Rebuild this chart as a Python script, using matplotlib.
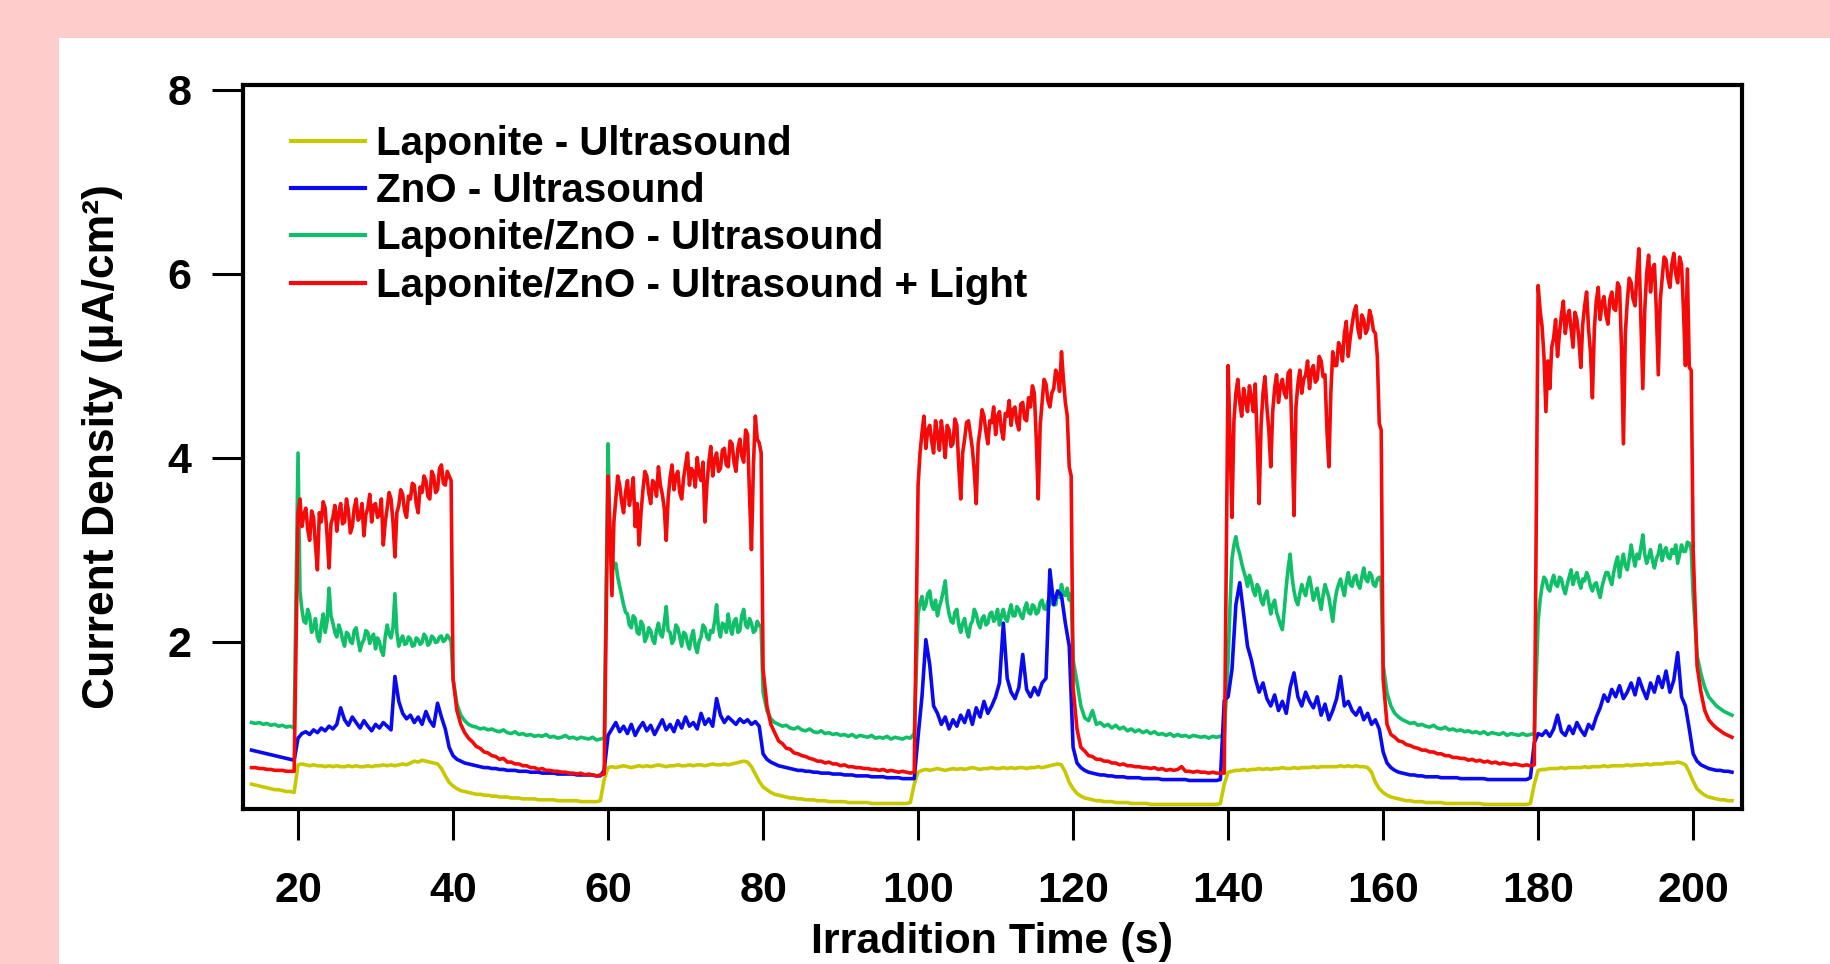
import matplotlib
matplotlib.use('Agg')
import matplotlib.pyplot as plt
import numpy as np
from matplotlib.patches import Rectangle
from matplotlib.transforms import blended_transform_factory

plt.rcParams['font.family'] = ['Liberation Sans', 'DejaVu Sans']
plt.rcParams['font.weight'] = 'bold'

# segment start times (s): pre-run, then on / off halves of each 40 s cycle
seg_starts = [14, 20, 40, 60, 80, 100, 120, 140, 160, 180, 200]
# sampling step of each segment (s); noisy "on" parts of red/green are sampled finer
coarse = [0.5] * 11
fine = [0.5, 0.25, 0.5, 0.25, 0.5, 0.25, 0.5, 0.25, 0.5, 0.25, 0.5]

yellow = [
    [0.45, 0.44, 0.43, 0.42, 0.41, 0.40, 0.39, 0.39, 0.38, 0.37, 0.37, 0.36],
    [0.66, 0.67, 0.66, 0.65, 0.66, 0.65, 0.65, 0.64, 0.65, 0.64, 0.65, 0.64, 0.64, 0.65, 0.64, 0.65, 0.64, 0.64, 0.65, 0.64,
     0.65, 0.65, 0.66, 0.65, 0.66, 0.65, 0.66, 0.67, 0.66, 0.68, 0.70, 0.69, 0.71, 0.70, 0.69, 0.68, 0.67, 0.62, 0.54, 0.47],
    [0.43, 0.40, 0.38, 0.37, 0.36, 0.35, 0.34, 0.34, 0.33, 0.33, 0.32, 0.32, 0.31, 0.31, 0.31, 0.30, 0.30, 0.30, 0.29, 0.29,
     0.29, 0.29, 0.28, 0.28, 0.28, 0.28, 0.28, 0.27, 0.27, 0.27, 0.27, 0.27, 0.27, 0.26, 0.26, 0.26, 0.26, 0.26, 0.27, 0.50],
    [0.63, 0.64, 0.63, 0.64, 0.65, 0.64, 0.63, 0.64, 0.65, 0.64, 0.65, 0.64, 0.65, 0.66, 0.65, 0.64, 0.65, 0.65, 0.66, 0.65,
     0.65, 0.66, 0.65, 0.66, 0.66, 0.65, 0.66, 0.67, 0.66, 0.66, 0.67, 0.66, 0.67, 0.68, 0.69, 0.70, 0.69, 0.64, 0.56, 0.48],
    [0.42, 0.39, 0.36, 0.34, 0.33, 0.32, 0.31, 0.30, 0.30, 0.29, 0.29, 0.28, 0.28, 0.28, 0.27, 0.27, 0.27, 0.26, 0.26, 0.26,
     0.26, 0.26, 0.25, 0.25, 0.25, 0.25, 0.25, 0.25, 0.24, 0.24, 0.24, 0.24, 0.24, 0.24, 0.24, 0.24, 0.24, 0.24, 0.25, 0.45],
    [0.58, 0.60, 0.61, 0.60, 0.61, 0.62, 0.61, 0.60, 0.61, 0.62, 0.61, 0.62, 0.61, 0.62, 0.63, 0.62, 0.61, 0.62, 0.62, 0.63,
     0.62, 0.62, 0.63, 0.62, 0.63, 0.62, 0.63, 0.63, 0.62, 0.63, 0.63, 0.64, 0.63, 0.64, 0.65, 0.66, 0.67, 0.66, 0.58, 0.47],
    [0.40, 0.35, 0.32, 0.30, 0.29, 0.28, 0.27, 0.27, 0.26, 0.26, 0.26, 0.25, 0.25, 0.25, 0.25, 0.24, 0.24, 0.24, 0.24, 0.24,
     0.23, 0.23, 0.23, 0.23, 0.23, 0.23, 0.23, 0.23, 0.23, 0.23, 0.23, 0.23, 0.23, 0.23, 0.23, 0.23, 0.23, 0.23, 0.24, 0.45],
    [0.58, 0.59, 0.60, 0.60, 0.61, 0.60, 0.61, 0.61, 0.62, 0.61, 0.62, 0.61, 0.62, 0.62, 0.63, 0.62, 0.62, 0.63, 0.62, 0.63,
     0.63, 0.63, 0.64, 0.63, 0.64, 0.64, 0.64, 0.64, 0.64, 0.65, 0.64, 0.65, 0.64, 0.65, 0.64, 0.64, 0.63, 0.58, 0.47, 0.40],
    [0.36, 0.33, 0.31, 0.30, 0.29, 0.28, 0.27, 0.27, 0.26, 0.26, 0.26, 0.25, 0.25, 0.25, 0.25, 0.25, 0.24, 0.24, 0.24, 0.24,
     0.24, 0.24, 0.24, 0.24, 0.24, 0.24, 0.23, 0.23, 0.23, 0.23, 0.23, 0.23, 0.23, 0.23, 0.23, 0.23, 0.23, 0.23, 0.24, 0.45],
    [0.60, 0.61, 0.61, 0.62, 0.62, 0.62, 0.63, 0.62, 0.63, 0.63, 0.63, 0.63, 0.64, 0.63, 0.64, 0.64, 0.64, 0.65, 0.64, 0.65,
     0.65, 0.65, 0.65, 0.66, 0.65, 0.66, 0.66, 0.66, 0.67, 0.66, 0.67, 0.67, 0.67, 0.68, 0.68, 0.68, 0.69, 0.68, 0.66, 0.58],
    [0.48, 0.40, 0.36, 0.33, 0.31, 0.30, 0.29, 0.28, 0.28, 0.27, 0.27],
]

blue = [
    [0.82, 0.81, 0.80, 0.79, 0.78, 0.77, 0.76, 0.75, 0.74, 0.73, 0.72, 0.71],
    [0.95, 1.00, 1.02, 0.99, 1.04, 1.01, 1.06, 1.03, 1.08, 1.05, 1.10, 1.28, 1.15, 1.09, 1.18, 1.12, 1.06, 1.14, 1.08, 1.03,
     1.10, 1.06, 1.12, 1.08, 1.04, 1.62, 1.35, 1.22, 1.16, 1.20, 1.12, 1.18, 1.10, 1.24, 1.14, 1.08, 1.33, 1.18, 1.05, 0.85],
    [0.76, 0.72, 0.70, 0.68, 0.67, 0.66, 0.65, 0.64, 0.63, 0.63, 0.62, 0.62, 0.61, 0.61, 0.60, 0.60, 0.60, 0.59, 0.59, 0.59,
     0.58, 0.58, 0.58, 0.57, 0.57, 0.57, 0.57, 0.56, 0.56, 0.56, 0.56, 0.56, 0.55, 0.55, 0.55, 0.55, 0.55, 0.54, 0.54, 0.60],
    [0.98, 1.05, 1.12, 1.02, 1.08, 1.00, 1.10, 0.98, 1.06, 1.12, 1.03, 1.09, 0.99, 1.07, 1.15, 1.04, 1.10, 1.02, 1.14, 1.06,
     1.18, 1.08, 1.12, 1.05, 1.22, 1.10, 1.16, 1.08, 1.38, 1.20, 1.12, 1.18, 1.14, 1.10, 1.16, 1.12, 1.15, 1.10, 1.13, 1.08],
    [0.78, 0.72, 0.69, 0.67, 0.65, 0.64, 0.63, 0.62, 0.61, 0.60, 0.60, 0.59, 0.59, 0.58, 0.58, 0.57, 0.57, 0.57, 0.56, 0.56,
     0.56, 0.55, 0.55, 0.55, 0.54, 0.54, 0.54, 0.54, 0.53, 0.53, 0.53, 0.53, 0.52, 0.52, 0.52, 0.52, 0.51, 0.51, 0.51, 0.51],
    [0.97, 1.40, 2.02, 1.75, 1.30, 1.22, 1.10, 1.18, 1.05, 1.15, 1.08, 1.20, 1.12, 1.25, 1.10, 1.28, 1.18, 1.35, 1.22, 1.30,
     1.40, 1.55, 2.20, 1.60, 1.45, 1.38, 1.50, 1.86, 1.48, 1.40, 1.50, 1.42, 1.55, 1.60, 2.78, 2.40, 2.55, 2.50, 2.20, 1.95],
    [0.85, 0.68, 0.63, 0.60, 0.58, 0.57, 0.56, 0.55, 0.55, 0.54, 0.54, 0.53, 0.53, 0.53, 0.52, 0.52, 0.52, 0.52, 0.51, 0.51,
     0.51, 0.51, 0.51, 0.50, 0.50, 0.50, 0.50, 0.50, 0.50, 0.50, 0.49, 0.49, 0.49, 0.49, 0.49, 0.49, 0.49, 0.49, 0.50, 1.36],
    [1.40, 1.70, 2.40, 2.64, 2.30, 1.95, 1.80, 1.60, 1.45, 1.55, 1.38, 1.30, 1.42, 1.25, 1.35, 1.22, 1.50, 1.66, 1.40, 1.30,
     1.45, 1.35, 1.28, 1.40, 1.20, 1.32, 1.15, 1.25, 1.38, 1.62, 1.30, 1.35, 1.25, 1.20, 1.28, 1.15, 1.22, 1.10, 1.15, 1.05],
    [0.80, 0.68, 0.63, 0.60, 0.58, 0.57, 0.56, 0.55, 0.55, 0.54, 0.54, 0.53, 0.53, 0.53, 0.53, 0.52, 0.52, 0.52, 0.52, 0.52,
     0.51, 0.51, 0.51, 0.51, 0.51, 0.51, 0.51, 0.50, 0.50, 0.50, 0.50, 0.50, 0.50, 0.50, 0.50, 0.50, 0.50, 0.50, 0.52, 0.90],
    [1.00, 0.98, 1.03, 0.97, 1.05, 1.20, 1.02, 0.98, 1.08, 1.00, 1.12, 1.04, 0.98, 1.10, 1.05, 1.18, 1.28, 1.42, 1.35, 1.48,
     1.40, 1.52, 1.38, 1.45, 1.55, 1.42, 1.60, 1.48, 1.38, 1.55, 1.45, 1.62, 1.50, 1.68, 1.45, 1.58, 1.88, 1.40, 1.30, 1.05],
    [0.78, 0.70, 0.66, 0.64, 0.62, 0.61, 0.60, 0.60, 0.59, 0.59, 0.58],
]

green = [
    [1.12, 1.11, 1.12, 1.10, 1.11, 1.09, 1.10, 1.08, 1.09, 1.07, 1.08, 1.06],
    [4.05, 2.55, 2.35, 2.22, 2.20, 2.35, 2.28, 2.10, 2.15, 2.25, 2.05, 2.00, 2.18, 2.30, 2.10, 2.22, 2.58, 2.28, 2.20, 2.10,
     2.05, 2.18, 2.12, 2.02, 1.95, 2.10, 2.08, 2.00, 1.98, 2.12, 2.15, 2.02, 1.90, 1.98, 2.02, 2.12, 2.10, 1.98, 2.05, 2.08,
     1.92, 2.04, 2.00, 1.90, 1.85, 2.05, 2.18, 2.08, 2.04, 2.15, 2.52, 2.10, 1.95, 2.02, 2.06, 1.97, 1.98, 2.05, 2.03, 1.95,
     1.96, 2.04, 2.02, 1.97, 1.99, 2.08, 2.05, 1.96, 1.98, 2.06, 2.04, 1.99, 2.00, 2.05, 2.06, 2.00, 2.02, 2.07, 2.04, 2.00],
    [1.59, 1.32, 1.20, 1.14, 1.10, 1.08, 1.07, 1.05, 1.06, 1.04, 1.05, 1.03, 1.02, 1.04, 1.01, 1.00, 1.02, 0.99, 1.00, 0.98,
     0.99, 0.97, 0.98, 0.97, 0.99, 0.96, 0.97, 0.95, 0.96, 0.98, 0.95, 0.96, 0.94, 0.96, 0.95, 0.94, 0.96, 0.93, 0.94, 0.95],
    [4.15, 3.10, 2.95, 2.80, 2.85, 2.70, 2.60, 2.50, 2.40, 2.32, 2.30, 2.18, 2.15, 2.28, 2.25, 2.10, 2.08, 2.22, 2.18, 2.00,
     2.05, 2.15, 2.12, 2.02, 1.98, 2.12, 2.20, 2.08, 2.05, 2.20, 2.38, 2.12, 2.10, 1.98, 2.02, 2.18, 2.15, 2.05, 1.95, 2.10,
     2.08, 1.98, 1.92, 2.05, 2.12, 1.95, 1.88, 2.00, 2.05, 2.18, 2.15, 2.05, 2.02, 2.12, 2.10, 2.22, 2.40, 2.15, 2.05, 2.20,
     2.18, 2.10, 2.30, 2.15, 2.08, 2.22, 2.25, 2.10, 2.12, 2.28, 2.35, 2.18, 2.15, 2.25, 2.20, 2.10, 2.12, 2.22, 2.18, 2.15],
    [1.45, 1.25, 1.16, 1.12, 1.10, 1.08, 1.09, 1.06, 1.05, 1.07, 1.04, 1.03, 1.05, 1.02, 1.01, 1.03, 1.00, 1.01, 0.99, 1.00,
     0.98, 0.99, 0.97, 0.99, 0.96, 0.98, 0.97, 0.96, 0.98, 0.95, 0.96, 0.95, 0.97, 0.94, 0.96, 0.95, 0.94, 0.96, 0.95, 1.00],
    [2.30, 2.42, 2.49, 2.35, 2.40, 2.52, 2.55, 2.40, 2.35, 2.45, 2.28, 2.38, 2.45, 2.55, 2.66, 2.42, 2.30, 2.22, 2.20, 2.32,
     2.35, 2.18, 2.10, 2.20, 2.25, 2.12, 2.05, 2.18, 2.22, 2.35, 2.30, 2.20, 2.15, 2.25, 2.28, 2.18, 2.20, 2.30, 2.32, 2.22,
     2.25, 2.35, 2.18, 2.28, 2.35, 2.25, 2.22, 2.32, 2.40, 2.28, 2.28, 2.38, 2.35, 2.28, 2.25, 2.36, 2.42, 2.32, 2.30, 2.40,
     2.38, 2.30, 2.32, 2.42, 2.45, 2.36, 2.35, 2.44, 2.40, 2.50, 2.48, 2.40, 2.55, 2.48, 2.62, 2.52, 2.50, 2.58, 2.45, 2.52],
    [1.80, 1.56, 1.30, 1.17, 1.14, 1.25, 1.10, 1.12, 1.08, 1.10, 1.06, 1.09, 1.05, 1.07, 1.03, 1.05, 1.02, 1.04, 1.01, 1.03,
     1.00, 1.02, 0.99, 1.00, 0.98, 1.00, 0.97, 0.99, 0.97, 0.98, 0.96, 0.98, 0.97, 0.96, 0.97, 0.95, 0.97, 0.96, 0.97, 0.98],
    [1.80, 2.40, 2.90, 3.05, 3.14, 3.02, 2.95, 2.85, 2.77, 2.70, 2.60, 2.72, 2.65, 2.55, 2.50, 2.62, 2.58, 2.45, 2.40, 2.50,
     2.55, 2.42, 2.30, 2.40, 2.45, 2.32, 2.25, 2.18, 2.13, 2.35, 2.60, 2.80, 2.95, 2.70, 2.55, 2.45, 2.40, 2.52, 2.62, 2.55,
     2.50, 2.62, 2.70, 2.58, 2.45, 2.52, 2.58, 2.45, 2.35, 2.50, 2.62, 2.55, 2.48, 2.35, 2.22, 2.42, 2.55, 2.62, 2.68, 2.58,
     2.50, 2.65, 2.75, 2.62, 2.60, 2.70, 2.72, 2.62, 2.58, 2.70, 2.80, 2.68, 2.65, 2.75, 2.72, 2.62, 2.60, 2.68, 2.70, 2.65],
    [1.75, 1.44, 1.30, 1.22, 1.18, 1.15, 1.13, 1.11, 1.12, 1.09, 1.10, 1.08, 1.07, 1.09, 1.06, 1.05, 1.07, 1.04, 1.05, 1.03,
     1.04, 1.02, 1.03, 1.01, 1.02, 1.00, 1.02, 0.99, 1.01, 1.00, 0.99, 1.01, 0.98, 1.00, 0.99, 0.98, 1.00, 0.98, 0.99, 1.00],
    [2.23, 2.45, 2.60, 2.70, 2.67, 2.58, 2.55, 2.65, 2.72, 2.62, 2.60, 2.70, 2.68, 2.58, 2.52, 2.62, 2.70, 2.78, 2.62, 2.70,
     2.75, 2.65, 2.58, 2.68, 2.66, 2.75, 2.70, 2.60, 2.55, 2.62, 2.64, 2.55, 2.48, 2.60, 2.68, 2.75, 2.75, 2.68, 2.62, 2.75,
     2.85, 2.92, 2.70, 2.85, 2.95, 2.82, 2.78, 2.90, 3.05, 2.92, 2.82, 2.95, 2.90, 3.02, 3.16, 2.95, 2.85, 2.92, 3.00, 2.88,
     2.80, 2.90, 2.95, 3.05, 2.88, 2.98, 3.02, 2.92, 2.90, 3.00, 2.96, 3.05, 2.85, 2.95, 3.05, 2.98, 2.98, 3.08, 3.07, 3.00],
    [2.50, 1.85, 1.65, 1.50, 1.40, 1.35, 1.30, 1.27, 1.24, 1.22, 1.20],
]

red = [
    [0.63, 0.63, 0.62, 0.62, 0.61, 0.61, 0.60, 0.60, 0.60, 0.59, 0.59, 0.59],
    [3.40, 3.55, 3.25, 3.38, 3.45, 3.22, 3.10, 3.42, 3.35, 3.05, 2.78, 3.40, 3.30, 3.52, 3.45, 3.15, 2.80, 3.28, 3.35, 3.48,
     3.20, 3.40, 3.50, 3.28, 3.30, 3.55, 3.42, 3.18, 3.25, 3.45, 3.55, 3.32, 3.35, 3.50, 3.15, 3.38, 3.45, 3.60, 3.30, 3.48,
     3.50, 3.35, 3.38, 3.55, 3.05, 3.30, 3.45, 3.62, 3.55, 3.30, 2.92, 3.40, 3.48, 3.65, 3.60, 3.42, 3.35, 3.58, 3.55, 3.72,
     3.70, 3.50, 3.40, 3.68, 3.62, 3.80, 3.75, 3.58, 3.55, 3.85, 3.80, 3.62, 3.65, 3.88, 3.92, 3.72, 3.70, 3.85, 3.80, 3.75],
    [1.60, 1.25, 1.10, 1.01, 0.95, 0.91, 0.86, 0.84, 0.80, 0.79, 0.76, 0.75, 0.72, 0.73, 0.69, 0.69, 0.67, 0.67, 0.65, 0.65,
     0.63, 0.63, 0.61, 0.62, 0.60, 0.60, 0.59, 0.59, 0.58, 0.58, 0.57, 0.57, 0.56, 0.57, 0.55, 0.56, 0.55, 0.54, 0.55, 0.56],
    [3.80, 3.20, 2.50, 3.30, 3.55, 3.80, 3.70, 3.52, 3.40, 3.62, 3.75, 3.48, 3.60, 3.78, 3.25, 3.50, 3.05, 3.40, 3.65, 3.85,
     3.80, 3.62, 3.50, 3.75, 3.72, 3.58, 3.90, 3.70, 3.60, 3.45, 3.10, 3.55, 3.78, 3.92, 3.65, 3.80, 3.85, 3.62, 3.55, 3.78,
     3.92, 4.05, 3.70, 3.88, 3.85, 3.68, 4.00, 3.82, 3.75, 3.95, 3.30, 3.70, 3.95, 4.12, 3.80, 3.98, 4.05, 3.85, 3.88, 4.08,
     4.10, 3.92, 3.90, 4.18, 4.15, 3.95, 3.85, 4.10, 4.20, 4.02, 3.95, 4.30, 4.25, 3.60, 3.00, 3.90, 4.45, 4.20, 4.16, 4.05],
    [1.70, 1.30, 1.10, 1.01, 0.92, 0.89, 0.84, 0.83, 0.79, 0.78, 0.76, 0.75, 0.73, 0.72, 0.70, 0.70, 0.68, 0.69, 0.67, 0.67,
     0.65, 0.66, 0.64, 0.64, 0.63, 0.63, 0.62, 0.62, 0.61, 0.61, 0.60, 0.61, 0.59, 0.60, 0.59, 0.58, 0.59, 0.58, 0.57, 0.58],
    [3.70, 4.05, 4.27, 4.45, 4.10, 4.30, 4.35, 4.18, 4.05, 4.40, 4.25, 4.08, 4.40, 4.22, 4.00, 4.35, 4.30, 4.12, 4.15, 4.42,
     4.35, 3.90, 3.55, 4.05, 4.20, 4.38, 4.40, 4.25, 4.10, 3.85, 3.50, 4.15, 4.30, 4.52, 4.45, 4.28, 4.15, 4.40, 4.38, 4.55,
     4.25, 4.45, 4.50, 4.30, 4.20, 4.48, 4.45, 4.62, 4.35, 4.52, 4.55, 4.38, 4.30, 4.58, 4.60, 4.42, 4.40, 4.65, 4.55, 4.78,
     4.70, 4.20, 3.55, 4.35, 4.60, 4.85, 4.80, 4.62, 4.55, 4.70, 4.75, 4.95, 4.90, 4.72, 5.15, 4.85, 4.60, 4.45, 3.90, 3.80],
    [1.50, 1.05, 0.85, 0.81, 0.76, 0.75, 0.72, 0.72, 0.70, 0.70, 0.68, 0.68, 0.66, 0.67, 0.65, 0.65, 0.64, 0.64, 0.63, 0.63,
     0.62, 0.63, 0.61, 0.62, 0.60, 0.61, 0.60, 0.61, 0.64, 0.59, 0.59, 0.58, 0.59, 0.58, 0.58, 0.57, 0.58, 0.57, 0.57, 0.57],
    [5.00, 4.20, 3.35, 4.40, 4.70, 4.85, 4.60, 4.45, 4.75, 4.62, 4.50, 4.78, 4.65, 4.50, 4.80, 4.20, 3.50, 4.35, 4.70, 4.88,
     4.55, 4.30, 3.90, 4.50, 4.75, 4.90, 4.60, 4.78, 4.85, 4.70, 4.65, 4.92, 4.95, 4.20, 3.37, 4.55, 4.80, 4.95, 4.70, 4.85,
     4.90, 5.05, 4.75, 4.95, 5.00, 4.82, 4.85, 5.10, 5.05, 4.88, 4.90, 4.30, 3.90, 4.70, 5.15, 5.00, 5.00, 5.25, 5.20, 5.05,
     5.35, 5.48, 5.10, 5.30, 5.45, 5.58, 5.65, 5.40, 5.30, 5.55, 5.50, 5.35, 5.40, 5.60, 5.52, 5.38, 5.35, 5.10, 4.37, 4.30],
    [1.60, 1.10, 0.99, 0.96, 0.92, 0.91, 0.88, 0.87, 0.85, 0.84, 0.82, 0.82, 0.80, 0.80, 0.78, 0.78, 0.76, 0.76, 0.74, 0.74,
     0.73, 0.73, 0.71, 0.72, 0.70, 0.71, 0.69, 0.70, 0.68, 0.69, 0.67, 0.68, 0.67, 0.66, 0.67, 0.66, 0.65, 0.66, 0.65, 0.66],
    [5.87, 5.60, 5.43, 5.10, 4.50, 5.05, 4.75, 5.20, 5.30, 5.50, 5.10, 5.35, 5.55, 5.70, 5.35, 5.52, 5.60, 5.40, 5.20, 5.58,
     5.50, 5.30, 4.98, 5.45, 5.65, 5.80, 5.40, 5.15, 4.65, 5.40, 5.70, 5.85, 5.50, 5.68, 5.75, 5.55, 5.45, 5.72, 5.80, 5.62,
     5.60, 5.90, 5.85, 5.20, 4.15, 5.35, 5.70, 5.95, 5.90, 5.72, 5.65, 6.00, 6.27, 5.50, 4.75, 5.60, 6.00, 6.20, 5.80, 6.05,
     6.10, 5.60, 4.90, 5.70, 5.95, 6.18, 6.15, 5.95, 5.85, 6.10, 6.22, 6.00, 5.90, 6.18, 6.10, 5.60, 5.00, 6.05, 4.98, 4.95],
    [3.00, 1.74, 1.45, 1.25, 1.15, 1.10, 1.06, 1.03, 1.00, 0.98, 0.96],
]

labels = ['Laponite - Ultrasound', 'ZnO - Ultrasound', 'Laponite/ZnO - Ultrasound',
          'Laponite/ZnO - Ultrasound + Light']
colors = ['#C8C800', '#0A0AF0', '#10C068', '#F50A0A']
xticks = [20, 40, 60, 80, 100, 120, 140, 160, 180, 200]
yticks = [2, 4, 6, 8]


def build(segs, steps):
    tt = []
    vv = []
    for t0, dt, vals in zip(seg_starts, steps, segs):
        tt.append(t0 + dt * np.arange(len(vals)))
        vv.append(np.array(vals))
    return np.concatenate(tt), np.concatenate(vv)


W, H = 1831, 964
fig = plt.figure(figsize=(W / 100, H / 100), dpi=100, facecolor='#FFCCCC')
panel = Rectangle((59 / W, 0), 1, 1 - 38 / H, transform=fig.transFigure,
                  facecolor='white', edgecolor='none', zorder=-10)
fig.patches.append(panel)

ax = fig.add_axes([243 / W, 1 - 809 / H, (1742 - 243) / W, (809 - 85) / H])
ax.set_zorder(1)

lines = {}
for name, segs, steps, lab, col in [('yellow', yellow, coarse, labels[0], colors[0]),
                                    ('green', green, fine, labels[2], colors[2]),
                                    ('blue', blue, coarse, labels[1], colors[1]),
                                    ('red', red, fine, labels[3], colors[3])]:
    t, v = build(segs, steps)
    lines[name], = ax.plot(t, v, color=col, lw=2.6, label=lab)

ax.set_xlim(12.9, 206.3)
ax.set_ylim(0.18, 8.05)
ax.set_xticks(xticks)
ax.set_yticks(yticks)
for s in ax.spines.values():
    s.set_linewidth(3)
ax.tick_params(axis='both', direction='out', length=22, width=2.2, labelsize=31)
ax.tick_params(axis='x', pad=23)
ax.tick_params(axis='y', pad=15)
for lab in ax.get_xticklabels() + ax.get_yticklabels():
    lab.set_fontweight('bold')

# x label sits right at the bottom edge of the picture
ax.set_xlabel('Irradition Time (s)', fontsize=31, fontweight='bold')
ax.xaxis.set_label_coords(0.5, 2 / H, transform=blended_transform_factory(ax.transAxes, fig.transFigure))
ax.xaxis.label.set_verticalalignment('bottom')
ax.set_ylabel('Current Density (µA/cm²)', fontsize=32, fontweight='bold')
ax.yaxis.set_label_coords(-0.080, 0.5)

leg = ax.legend(handles=[lines['yellow'], lines['blue'], lines['green'], lines['red']],
                loc='upper left', bbox_to_anchor=(0.032, 0.945), frameon=False,
                fontsize=29, handlelength=1.85, handletextpad=0.25, labelspacing=0.23,
                borderpad=0, borderaxespad=0)
for txt in leg.get_texts():
    txt.set_fontweight('bold')
for h in leg.legend_handles:
    h.set_linewidth(3)

fig.savefig('out.png', dpi=100, facecolor=fig.get_facecolor())
